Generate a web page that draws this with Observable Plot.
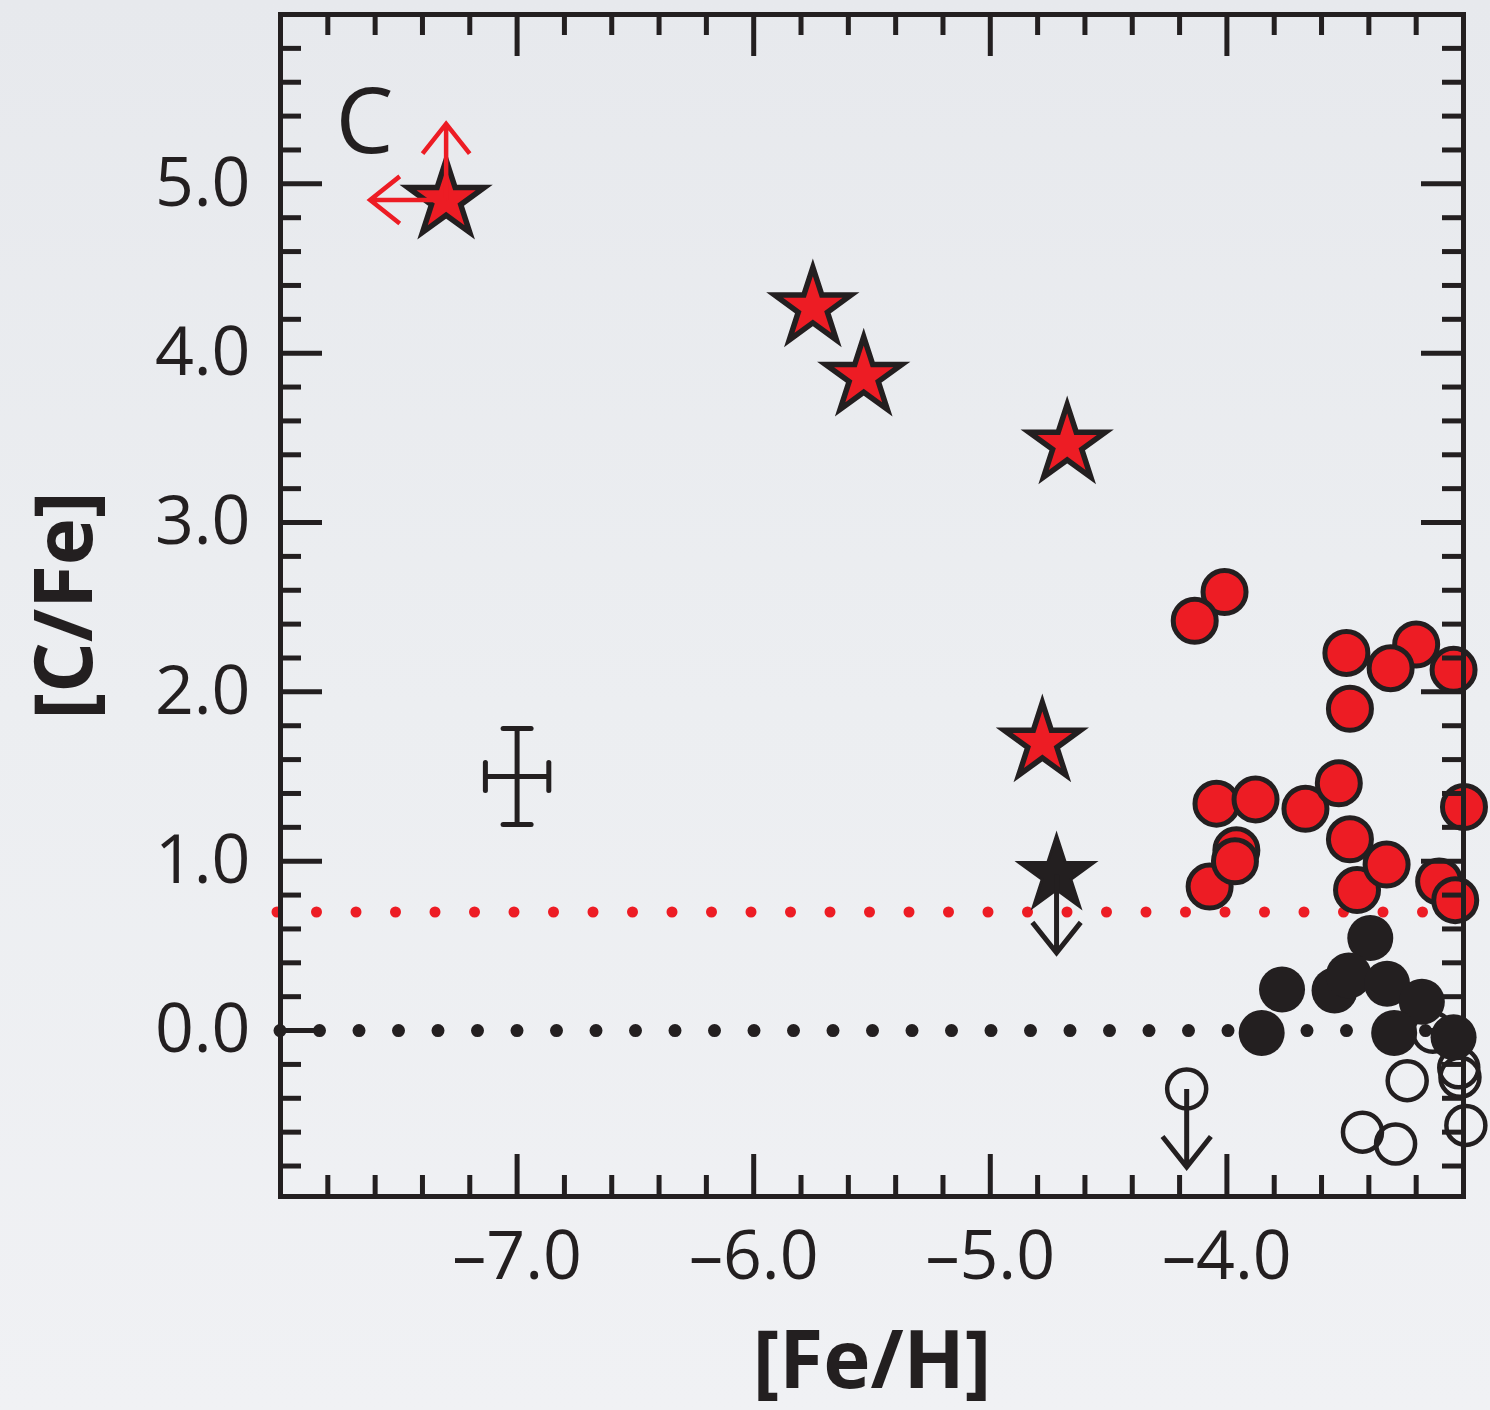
<!DOCTYPE html>
<html>
<head>
<meta charset="utf-8">
<script src="https://cdn.jsdelivr.net/npm/d3@7"></script>
<script src="https://cdn.jsdelivr.net/npm/@observablehq/plot@0.6"></script>
<style>
  html, body { margin: 0; padding: 0; }
  body {
    width: 1490px; height: 1410px; overflow: hidden;
    background: linear-gradient(180deg, #e7e9ed 0%, #eceef1 50%, #f0f1f4 100%);
  }
  #chart svg { display: block; }
</style>
</head>
<body>
<div id="chart"></div>
<script>
const INK = "#231f20";
const RED = "#ed1c24";

// ---- data ([Fe/H], [C/Fe]) ----
// red stars (hyper metal-poor, carbon rich)
const starFeH = [-7.30, -5.75, -5.535, -4.675, -4.78];
const starCFe = [4.905, 4.27, 3.86, 3.46, 1.70];
// black star ([C/Fe] upper limit)
const blackStarFeH = [-4.72];
const blackStarCFe = [0.92];
// red circles (carbon enhanced)
const redFeH = [-4.01, -4.136, -3.495, -3.20, -3.308, -3.042, -3.48, -4.044, -3.879, -3.668,
                -3.527, -2.998, -4.073, -3.96, -3.966, -3.48, -3.45, -3.325, -3.103, -3.035];
const redCFe = [2.59, 2.42, 2.23, 2.28, 2.14, 2.13, 1.90, 1.34, 1.365, 1.31,
                1.46, 1.32, 0.85, 1.065, 1.00, 1.13, 0.83, 0.98, 0.88, 0.77];
// black filled circles
const blackFeH = [-3.394, -3.767, -3.545, -3.485, -3.323, -3.176, -3.853, -3.293, -3.042];
const blackCFe = [0.546, 0.243, 0.237, 0.325, 0.276, 0.17, -0.014, -0.014, -0.04];
// open circles
const openFeH = [-4.17, -3.238, -3.02, -3.015, -2.99, -3.427, -3.287, -3.13];
const openCFe = [-0.345, -0.296, -0.22, -0.276, -0.56, -0.60, -0.67, -0.01];
// limit arrows
const redLimitFeH = [-7.30, -7.30];
const redLimitCFe = [4.905, 4.905];
const redLimitDir = ["up", "left"];
const inkLimitFeH = [-4.72, -4.17];
const inkLimitCFe = [0.92, -0.345];
const inkLimitDir = ["down", "down"];
// representative error bar
const errFeH = [-7.0];
const errCFe = [1.5];
const errDFeH = [0.134];
const errDCFe = [0.283];
// reference lines
const carbonCut = [0.7];
const solar = [0];
// panel label
const panelLabel = ["C"];
const panelLabelFeH = [-7.645];
const panelLabelCFe = [5.355];
// ticks
const xMajorTicks = [-7, -6, -5, -4];
const xMinorTicks = [-7.8, -7.6, -7.4, -7.2, -6.8, -6.6, -6.4, -6.2, -5.8, -5.6, -5.4, -5.2,
                     -4.8, -4.6, -4.4, -4.2, -3.8, -3.6, -3.4, -3.2];
const yMajorTicks = [0, 1, 2, 3, 4, 5];
const yMinorTicks = [-0.8, -0.6, -0.4, -0.2, 0.2, 0.4, 0.6, 0.8, 1.2, 1.4, 1.6, 1.8,
                     2.2, 2.4, 2.6, 2.8, 3.2, 3.4, 3.6, 3.8, 4.2, 4.4, 4.6, 4.8,
                     5.2, 5.4, 5.6, 5.8];
const xTitle = "[Fe/H]";
const yTitle = "[C/Fe]";

// ---- helpers ----
const rows = (xs, ys, extra = {}) => xs.map((x, i) => {
  const r = {x, y: ys[i]};
  for (const k in extra) r[k] = extra[k][i];
  return r;
});
const dirAngle = {up: 0, right: 90, down: 180, left: 270};

const W = 1490, H = 1410;
const mL = 280, mR = 27, mT = 14, mB = 214;
const FH = H - mT - mB, FW = W - mL - mR;
const MAJ = 42, MIN = 21;

const capShape = {draw(ctx, l) { ctx.moveTo(-l / 2, 0); ctx.lineTo(l / 2, 0); }};
const arrowShape = {draw(ctx, l) {
  const w = 0.31 * l, h = 0.39 * l;
  ctx.moveTo(0, 0); ctx.lineTo(0, -l);
  ctx.moveTo(-w, -l + h); ctx.lineTo(0, -l); ctx.lineTo(w, -l + h);
}};
const fmtX = d => (d < 0 ? "\u2013" : "") + Math.abs(d).toFixed(1);
const fmtY = d => (d < 0 ? "\u2013" : "") + Math.abs(d).toFixed(1);

const errRows = rows(errFeH, errCFe, {dx: errDFeH, dy: errDCFe});

const chart = Plot.plot({
  width: W, height: H,
  marginLeft: mL, marginRight: mR, marginTop: mT, marginBottom: mB,
  x: {domain: [-8, -3]},
  y: {domain: [-0.98, 6]},
  style: {background: "transparent", fontFamily: "'Open Sans', sans-serif", color: INK, overflow: "visible"},
  marks: [
    // reference dotted lines
    Plot.ruleY(carbonCut, {stroke: RED, strokeWidth: 11, strokeDasharray: "0 39.5", strokeLinecap: "round", insetLeft: -3}),
    Plot.ruleY(solar, {stroke: INK, strokeWidth: 13, strokeDasharray: "0 39.5", strokeLinecap: "round"}),

    // error bar
    Plot.ruleX(errRows, {x: "x", y1: d => d.y - d.dy, y2: d => d.y + d.dy, stroke: INK, strokeWidth: 5}),
    Plot.ruleY(errRows, {y: "y", x1: d => d.x - d.dx, x2: d => d.x + d.dx, stroke: INK, strokeWidth: 5}),
    Plot.vector(errRows.flatMap(d => [{x: d.x, y: d.y + d.dy}, {x: d.x, y: d.y - d.dy}]),
      {x: "x", y: "y", length: 28, rotate: 0, anchor: "start", shape: capShape, stroke: INK, strokeWidth: 5, strokeLinecap: "round"}),
    Plot.vector(errRows.flatMap(d => [{x: d.x - d.dx, y: d.y}, {x: d.x + d.dx, y: d.y}]),
      {x: "x", y: "y", length: 28, rotate: 90, anchor: "start", shape: capShape, stroke: INK, strokeWidth: 5, strokeLinecap: "round"}),

    // open circles
    Plot.dot(rows(openFeH, openCFe), {x: "x", y: "y", r: 19.5, fill: "none", stroke: INK, strokeWidth: 4.5}),
    // black filled circles
    Plot.dot(rows(blackFeH, blackCFe), {x: "x", y: "y", r: 23, fill: INK, stroke: "none"}),
    // red circles
    Plot.dot(rows(redFeH, redCFe), {x: "x", y: "y", r: 21.5, fill: RED, stroke: INK, strokeWidth: 5}),

    // stars
    Plot.dot(rows(starFeH, starCFe), {x: "x", y: "y", symbol: "star", r: 24, fill: RED, stroke: INK, strokeWidth: 5.5}),
    Plot.dot(rows(blackStarFeH, blackStarCFe), {x: "x", y: "y", symbol: "star", r: 24, fill: INK, stroke: INK, strokeWidth: 2.5}),

    // limit arrows
    Plot.vector(rows(inkLimitFeH, inkLimitCFe, {dir: inkLimitDir}),
      {x: "x", y: "y", rotate: d => dirAngle[d.dir], length: 78, anchor: "start", shape: arrowShape,
       stroke: INK, strokeWidth: 5, strokeLinecap: "butt", strokeLinejoin: "miter"}),
    Plot.vector(rows(redLimitFeH, redLimitCFe, {dir: redLimitDir}),
      {x: "x", y: "y", rotate: d => dirAngle[d.dir], length: 76, anchor: "start", shape: arrowShape,
       stroke: RED, strokeWidth: 4.5, strokeLinecap: "butt", strokeLinejoin: "miter"}),

    // inward ticks on all four sides
    Plot.tickX(xMajorTicks, {x: d => d, insetTop: FH - MAJ, stroke: INK, strokeWidth: 5}),
    Plot.tickX(xMajorTicks, {x: d => d, insetBottom: FH - MAJ, stroke: INK, strokeWidth: 5}),
    Plot.tickX(xMinorTicks, {x: d => d, insetTop: FH - MIN, stroke: INK, strokeWidth: 5}),
    Plot.tickX(xMinorTicks, {x: d => d, insetBottom: FH - MIN, stroke: INK, strokeWidth: 5}),
    Plot.tickY(yMajorTicks, {y: d => d, insetRight: FW - MAJ, stroke: INK, strokeWidth: 5}),
    Plot.tickY(yMajorTicks, {y: d => d, insetLeft: FW - MAJ, stroke: INK, strokeWidth: 5}),
    Plot.tickY(yMinorTicks, {y: d => d, insetRight: FW - MIN, stroke: INK, strokeWidth: 5}),
    Plot.tickY(yMinorTicks, {y: d => d, insetLeft: FW - MIN, stroke: INK, strokeWidth: 5}),
    Plot.frame({stroke: INK, strokeWidth: 5}),

    // tick labels
    Plot.axisX({ticks: xMajorTicks, tickFormat: fmtX, tickSize: 0, tickPadding: 34, label: null, fontSize: 68, fill: INK}),
    Plot.axisY({ticks: yMajorTicks, tickFormat: fmtY, tickSize: 0, tickPadding: 30, label: null, fontSize: 68, fill: INK}),

    // axis titles
    Plot.text([xTitle], {text: d => d, frameAnchor: "bottom", dy: 166, fontSize: 80, fontWeight: "bold", fill: INK,
      textAnchor: "middle", lineAnchor: "middle"}),
    Plot.text([yTitle], {text: d => d, frameAnchor: "left", dx: -214, rotate: -90, fontSize: 80, fontWeight: "bold", fill: INK,
      textAnchor: "middle", lineAnchor: "middle"}),

    // panel label
    Plot.text(rows(panelLabelFeH, panelLabelCFe, {t: panelLabel}), {x: "x", y: "y", text: "t", fontSize: 92, fill: INK, lineAnchor: "middle"})
  ]
});
document.getElementById("chart").appendChild(chart);
</script>
</body>
</html>
